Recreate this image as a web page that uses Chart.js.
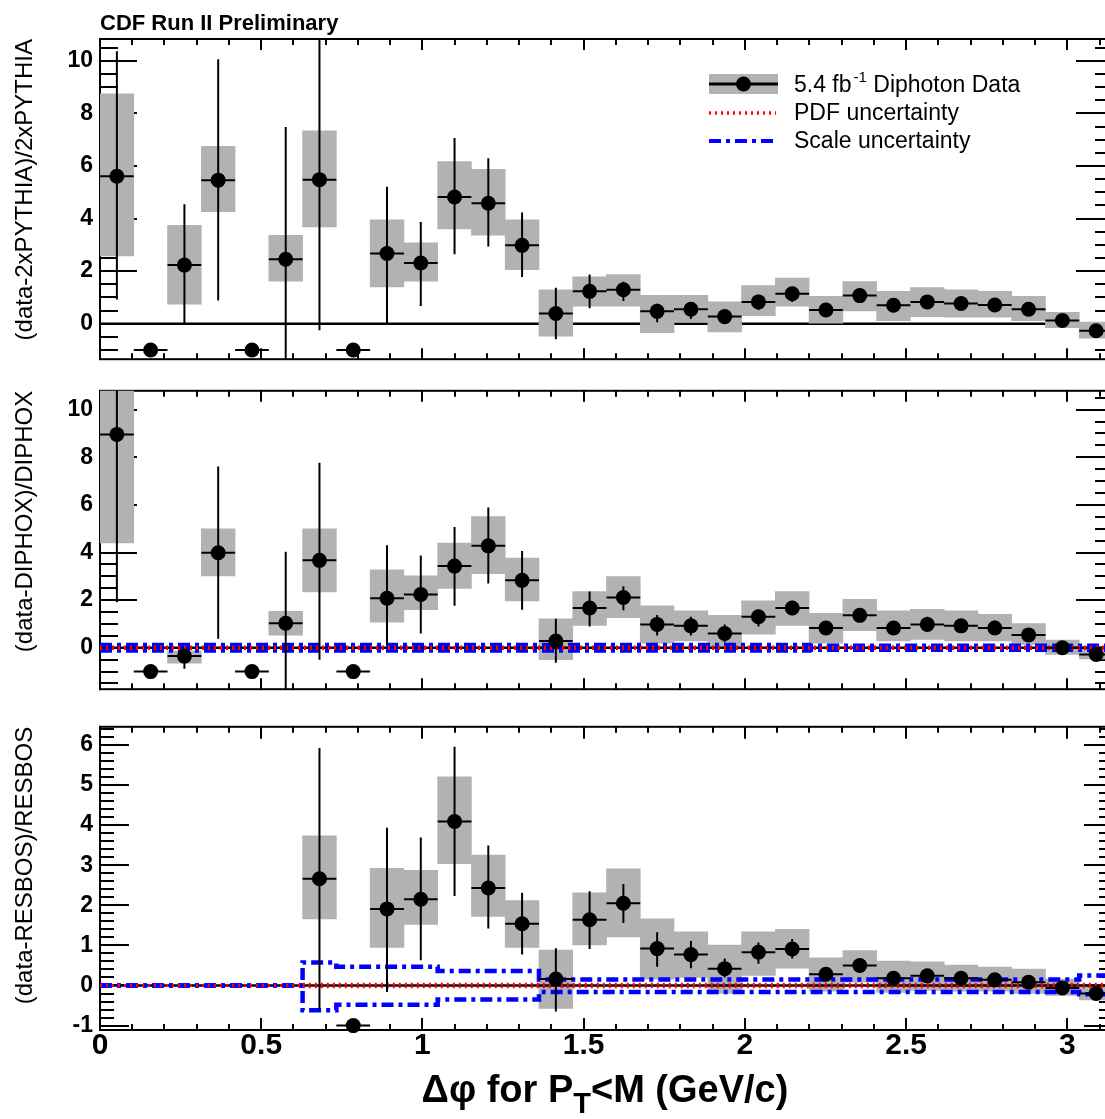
<!DOCTYPE html>
<html>
<head>
<meta charset="utf-8">
<script src="https://cdn.jsdelivr.net/npm/chart.js@4.4.0/dist/chart.umd.min.js"></script>
<style>
  html, body { margin: 0; padding: 0; background: #fff; }
  #wrap { position: relative; width: 1105px; height: 1119px; overflow: hidden; }
  #wrap canvas { position: absolute; left: 0; }
</style>
</head>
<body>
<div id="wrap">
  <canvas id="pythia" width="1130" height="380" style="top:0px"></canvas>
  <canvas id="diphox" width="1130" height="340" style="top:370px"></canvas>
  <canvas id="resbos" width="1130" height="413" style="top:706px"></canvas>
</div>
<script>
// delta phi bins (rad), 30 bins from 0 to pi
const binEdges = [0, 0.1047, 0.2094, 0.3142, 0.4189, 0.5236, 0.6283, 0.7330, 0.8378, 0.9425,
  1.0472, 1.1519, 1.2566, 1.3614, 1.4661, 1.5708, 1.6755, 1.7802, 1.8850, 1.9897,
  2.0944, 2.1991, 2.3038, 2.4086, 2.5133, 2.6180, 2.7227, 2.8274, 2.9322, 3.0369, 3.1416];
const xTickLabels = [0, 0.5, 1, 1.5, 2, 2.5, 3];

// (data-2xPYTHIA)/2xPYTHIA
const pythiaTicks = [0, 2, 4, 6, 8, 10];
const pythiaVal = [5.61, -1, 2.23, 5.46, -1, 2.45, 5.48, -1, 2.67, 2.31, 4.82, 4.58, 2.98, 0.39, 1.23,
  1.29, 0.47, 0.55, 0.27, 0.83, 1.14, 0.52, 1.07, 0.70, 0.83, 0.77, 0.71, 0.55, 0.12, -0.27];
const pythiaSysLo = [2.58, null, 0.74, 4.26, null, 1.62, 3.68, null, 1.40, 1.62, 3.61, 3.37, 2.06, -0.47, 0.67,
  0.67, -0.34, 0.06, -0.31, 0.31, 0.67, 0.02, 0.49, 0.12, 0.27, 0.25, 0.25, 0.12, -0.15, -0.55];
const pythiaSysHi = [8.74, null, 3.74, 6.75, null, 3.36, 7.34, null, 3.95, 3.08, 6.17, 5.87, 3.95, 1.29, 1.78,
  1.87, 1.08, 1.08, 0.83, 1.45, 1.74, 1.04, 1.60, 1.23, 1.37, 1.29, 1.23, 1.04, 0.43, 0.06];
const pythiaErrLo = [0.92, null, 0.0, 0.88, null, -2.0, -0.25, null, 0.0, 0.67, 2.64, 2.94, 1.78, -0.59, 0.59,
  0.86, 0.06, 0.18, -0.02, 0.52, 0.83, 0.27, 0.80, 0.47, 0.59, 0.55, 0.47, 0.31, -0.06, -0.45];
const pythiaErrHi = [10.36, null, 4.54, 10.06, null, 7.48, 11.5, null, 5.21, 3.87, 7.06, 6.29, 4.23, 1.37, 1.87,
  1.60, 0.76, 0.80, 0.55, 1.10, 1.41, 0.80, 1.35, 0.98, 1.08, 1.00, 0.96, 0.80, 0.31, -0.09];

// (data-DIPHOX)/DIPHOX
const diphoxTicks = [0, 2, 4, 6, 8, 10];
const diphoxVal = [8.96, -1, -0.35, 3.99, -1, 1.03, 3.67, -1, 2.08, 2.24, 3.43, 4.28, 2.83, 0.28, 1.67,
  2.11, 0.98, 0.92, 0.60, 1.30, 1.67, 0.83, 1.36, 0.83, 0.98, 0.92, 0.83, 0.54, 0.0, -0.28];
const diphoxSysLo = [4.40, null, -0.65, 3.02, null, 0.53, 2.35, null, 1.07, 1.60, 2.49, 3.11, 1.97, -0.50, 0.94,
  1.26, 0.19, 0.29, 0.06, 0.57, 0.94, 0.19, 0.72, 0.29, 0.35, 0.29, 0.29, 0.14, -0.28, -0.47];
const diphoxSysHi = [13.5, null, -0.13, 4.99, null, 1.53, 4.99, null, 3.27, 3.02, 4.40, 5.51, 3.77, 1.22, 2.36,
  2.99, 1.76, 1.55, 1.36, 1.97, 2.36, 1.45, 2.03, 1.55, 1.61, 1.55, 1.40, 1.02, 0.32, 0.06];
const diphoxErrLo = [1.91, null, -0.88, 0.38, null, -2.5, -0.50, null, 0.13, 0.60, 1.76, 2.70, 1.60, -0.63, 0.89,
  1.57, 0.52, 0.52, 0.23, 0.89, 1.36, 0.55, 1.11, 0.55, 0.69, 0.67, 0.57, 0.29, -0.22, -0.45];
const diphoxErrHi = [15.0, null, -0.15, 7.61, null, 4.03, 7.77, null, 4.30, 3.87, 5.07, 5.89, 4.06, 1.22, 2.36,
  2.58, 1.38, 1.30, 0.98, 1.60, 1.97, 1.11, 1.64, 1.11, 1.30, 1.17, 1.15, 0.82, 0.22, -0.10];
const diphoxScaleUp = [0.12, 0.12, 0.12, 0.12, 0.12, 0.12, 0.12, 0.12, 0.12, 0.12, 0.12, 0.12, 0.12, 0.12, 0.12,
  0.12, 0.12, 0.12, 0.12, 0.12, 0.12, 0.08, 0.08, 0.08, 0.08, 0.08, 0.08, 0.08, 0.08, 0.08];
const diphoxScaleDn = [-0.12, -0.12, -0.12, -0.12, -0.12, -0.12, -0.12, -0.12, -0.12, -0.12, -0.12, -0.12, -0.12, -0.12, -0.12,
  -0.12, -0.12, -0.12, -0.12, -0.12, -0.12, -0.08, -0.08, -0.08, -0.08, -0.08, -0.08, -0.08, -0.08, -0.08];
const diphoxPdfUp = [0.03, 0.03, 0.03, 0.03, 0.03, 0.03, 0.03, 0.03, 0.03, 0.03, 0.03, 0.03, 0.03, 0.03, 0.03,
  0.03, 0.03, 0.03, 0.03, 0.03, 0.03, 0.03, 0.03, 0.03, 0.03, 0.03, 0.03, 0.03, 0.03, 0.03];
const diphoxPdfDn = [-0.03, -0.03, -0.03, -0.03, -0.03, -0.03, -0.03, -0.03, -0.03, -0.03, -0.03, -0.03, -0.03, -0.03, -0.03,
  -0.03, -0.03, -0.03, -0.03, -0.03, -0.03, -0.03, -0.03, -0.03, -0.03, -0.03, -0.03, -0.03, -0.03, -0.03];

// (data-RESBOS)/RESBOS
const resbosTicks = [-1, 0, 1, 2, 3, 4, 5, 6];
const resbosVal = [null, null, null, null, null, null, 2.66, -1, 1.91, 2.15, 4.09, 2.43, 1.54, 0.16, 1.64,
  2.05, 0.92, 0.77, 0.42, 0.83, 0.91, 0.28, 0.50, 0.18, 0.24, 0.18, 0.14, 0.08, -0.06, -0.20];
const resbosSysLo = [null, null, null, null, null, null, 1.66, null, 0.95, 1.52, 3.04, 1.72, 0.95, -0.57, 1.01,
  1.21, 0.16, 0.20, -0.20, 0.25, 0.43, -0.14, 0.08, -0.17, -0.12, -0.14, -0.14, -0.20, -0.25, -0.36];
const resbosSysHi = [null, null, null, null, null, null, 3.73, null, 2.92, 2.87, 5.20, 3.25, 2.12, 0.88, 2.31,
  2.91, 1.66, 1.34, 1.01, 1.34, 1.40, 0.69, 0.87, 0.61, 0.59, 0.51, 0.46, 0.41, 0.16, 0.02];
const resbosErrLo = [null, null, null, null, null, null, -0.59, null, -0.16, 0.63, 2.23, 1.42, 0.77, -0.65, 0.91,
  1.56, 0.47, 0.43, 0.20, 0.54, 0.67, 0.14, 0.33, 0.06, 0.09, 0.06, 0.02, -0.04, -0.16, -0.30];
const resbosErrHi = [null, null, null, null, null, null, 5.92, null, 3.93, 3.69, 5.95, 3.49, 2.31, 0.93, 2.35,
  2.53, 1.33, 1.11, 0.67, 1.07, 1.16, 0.41, 0.67, 0.33, 0.38, 0.32, 0.28, 0.22, 0.04, -0.10];
const resbosScaleUp = [0, 0, 0, 0, 0, 0, 0.57, 0.47, 0.47, 0.47, 0.36, 0.36, 0.36, 0.15, 0.15,
  0.15, 0.15, 0.15, 0.15, 0.15, 0.15, 0.15, 0.15, 0.15, 0.15, 0.15, 0.15, 0.15, 0.15, 0.25];
const resbosScaleDn = [0, 0, 0, 0, 0, 0, -0.62, -0.48, -0.48, -0.48, -0.35, -0.35, -0.35, -0.16, -0.16,
  -0.16, -0.16, -0.16, -0.16, -0.16, -0.16, -0.16, -0.16, -0.16, -0.16, -0.16, -0.16, -0.16, -0.16, -0.22];
const resbosPdfUp = [0, 0, 0, 0, 0, 0, 0.03, 0.03, 0.03, 0.03, 0.03, 0.03, 0.03, 0.03, 0.03,
  0.03, 0.03, 0.03, 0.03, 0.03, 0.03, 0.03, 0.03, 0.03, 0.03, 0.03, 0.03, 0.03, 0.03, 0.03];
const resbosPdfDn = [0, 0, 0, 0, 0, 0, -0.03, -0.03, -0.03, -0.03, -0.03, -0.03, -0.03, -0.03, -0.03,
  -0.03, -0.03, -0.03, -0.03, -0.03, -0.03, -0.03, -0.03, -0.03, -0.03, -0.03, -0.03, -0.03, -0.03, -0.03];

const FONT = '"Liberation Sans", Arial, Helvetica, sans-serif';
const boxColor = '#b2b2b2';
const scaleDash = [12, 5, 4, 5];
const pdfDash = [2, 4];

const centers = binEdges.slice(0, -1).map((e, i) => (e + binEdges[i + 1]) / 2);

function boxPoints(lo, hi) {
  let pts = [];
  centers.forEach((c, i) => {
    if (lo[i] != null) pts.push({x: c, y: [lo[i], hi[i]]});
  });
  return pts;
}

function vBarPoints(lo, hi) {
  let pts = [];
  centers.forEach((c, i) => {
    if (lo[i] == null) return;
    pts.push({x: c, y: lo[i]}, {x: c, y: hi[i]}, {x: c, y: null});
  });
  return pts;
}

function hBarPoints(vals) {
  let pts = [];
  vals.forEach((v, i) => {
    if (v == null) return;
    pts.push({x: binEdges[i], y: v}, {x: binEdges[i + 1], y: v}, {x: binEdges[i + 1], y: null});
  });
  return pts;
}

function markerPoints(vals) {
  let pts = [];
  vals.forEach((v, i) => {
    if (v != null) pts.push({x: centers[i], y: v});
  });
  return pts;
}

function stepPoints(band) {
  let pts = band.map((v, i) => ({x: binEdges[i], y: v}));
  pts.push({x: binEdges[band.length], y: band[band.length - 1]});
  return pts;
}

// ROOT style frame with inward ticks on all four sides
const frameTicks = {
  id: 'frameTicks',
  beforeDatasetsDraw(chart, args, o) {
    const {ctx, chartArea: a} = chart;
    const x = chart.scales.x, y = chart.scales.y;
    ctx.save();
    ctx.strokeStyle = '#000';
    ctx.lineWidth = 2;
    ctx.strokeRect(a.left, a.top, a.right - a.left, a.bottom - a.top);
    ctx.beginPath();
    for (let i = 0; i * 0.1 <= x.max + 1e-6; i++) {
      const px = Math.round(x.getPixelForValue(i * 0.1));
      const len = i % 5 === 0 ? o.xLong : o.xShort;
      ctx.moveTo(px, a.bottom); ctx.lineTo(px, a.bottom - len);
      ctx.moveTo(px, a.top); ctx.lineTo(px, a.top + len);
    }
    const per = Math.round(o.yMajor / o.yMinor);
    const n0 = Math.ceil(y.min / o.yMinor - 1e-6), n1 = Math.floor(y.max / o.yMinor + 1e-6);
    for (let i = n0; i <= n1; i++) {
      const py = Math.round(y.getPixelForValue(i * o.yMinor));
      const len = ((i % per) + per) % per === 0 ? o.yLong : o.yShort;
      ctx.moveTo(a.left, py); ctx.lineTo(a.left + len, py);
      ctx.moveTo(a.right, py); ctx.lineTo(a.right - len, py);
    }
    ctx.stroke();
    ctx.restore();
  }
};

// header text and legend of the top pad
const topDecor = {
  id: 'topDecor',
  afterDatasetsDraw(chart) {
    const {ctx, chartArea: a} = chart;
    const lx = a.left + 609, lw = 69, tx = a.left + 694;
    ctx.save();
    ctx.fillStyle = '#000';
    ctx.font = 'bold 22px ' + FONT;
    ctx.textBaseline = 'alphabetic';
    ctx.fillText('CDF Run II Preliminary', a.left, a.top - 9);

    ctx.fillStyle = boxColor;
    ctx.fillRect(lx, a.top + 35, lw, 20);
    ctx.strokeStyle = '#000';
    ctx.lineWidth = 3;
    ctx.beginPath();
    ctx.moveTo(lx, a.top + 45); ctx.lineTo(lx + lw, a.top + 45);
    ctx.stroke();
    ctx.fillStyle = '#000';
    ctx.beginPath();
    ctx.arc(lx + lw / 2, a.top + 45, 7.5, 0, Math.PI * 2);
    ctx.fill();

    ctx.lineWidth = 3.5;
    ctx.strokeStyle = '#ff0000';
    ctx.setLineDash(pdfDash);
    ctx.beginPath();
    ctx.moveTo(lx, a.top + 74); ctx.lineTo(lx + lw - 2, a.top + 74);
    ctx.stroke();
    ctx.lineWidth = 4;
    ctx.strokeStyle = '#0000ff';
    ctx.setLineDash(scaleDash);
    ctx.beginPath();
    ctx.moveTo(lx, a.top + 102); ctx.lineTo(lx + lw - 2, a.top + 102);
    ctx.stroke();
    ctx.setLineDash([]);

    const big = '23px ' + FONT, sup = '15px ' + FONT;
    ctx.font = big;
    ctx.fillText('5.4 fb', tx, a.top + 53);
    let cx = tx + ctx.measureText('5.4 fb').width + 2;
    ctx.font = sup;
    ctx.fillText('-1', cx, a.top + 43);
    cx += ctx.measureText('-1').width;
    ctx.font = big;
    ctx.fillText(' Diphoton Data', cx, a.top + 53);
    ctx.fillText('PDF uncertainty', tx, a.top + 81);
    ctx.fillText('Scale uncertainty', tx, a.top + 109);
    ctx.restore();
  }
};

// x axis title with subscript
const xTitle = {
  id: 'xTitle',
  afterDraw(chart) {
    const {ctx, chartArea: a} = chart;
    const big = 'bold 38px ' + FONT, small = 'bold 29px ' + FONT;
    const parts = [['\u0394\u03c6 for P', big, 0], ['T', small, 11], ['<M (GeV/c)', big, 0]];
    ctx.save();
    ctx.fillStyle = '#000';
    let w = 0;
    parts.forEach(p => { ctx.font = p[1]; w += ctx.measureText(p[0]).width; });
    let cx = a.left + 505 - w / 2;
    const base = a.bottom + 72;
    parts.forEach(p => {
      ctx.font = p[1];
      ctx.fillText(p[0], cx, base + p[2]);
      cx += ctx.measureText(p[0]).width;
    });
    ctx.restore();
  }
};

function makePanel(id, p) {
  let datasets = [
    {type: 'line', data: [{x: binEdges[0], y: 0}, {x: binEdges[30], y: 0}], borderColor: '#000',
      borderWidth: 2.5, pointRadius: 0, order: p.zeroOnTop ? 5 : 7},
    {type: 'bar', data: boxPoints(p.sysLo, p.sysHi), backgroundColor: boxColor, borderWidth: 0,
      barPercentage: 1, categoryPercentage: 1, order: 6}
  ];
  if (p.scaleUp) {
    [p.scaleUp, p.scaleDn].forEach(b => datasets.push({type: 'line', data: stepPoints(b), stepped: true,
      borderColor: '#0000ff', borderWidth: 4.5, borderDash: scaleDash, pointRadius: 0, order: 4}));
    [p.pdfUp, p.pdfDn].forEach(b => datasets.push({type: 'line', data: stepPoints(b), stepped: true,
      borderColor: '#ff0000', borderWidth: 3, borderDash: pdfDash, pointRadius: 0, order: 3}));
  }
  datasets.push(
    {type: 'line', data: vBarPoints(p.errLo, p.errHi), borderColor: '#000', borderWidth: 2,
      pointRadius: 0, spanGaps: false, order: 2},
    {type: 'line', data: hBarPoints(p.val), borderColor: '#000', borderWidth: 2,
      pointRadius: 0, spanGaps: false, order: 2},
    {type: 'scatter', data: markerPoints(p.val), backgroundColor: '#000', borderWidth: 0,
      pointRadius: 7.5, clip: 9, order: 1}
  );

  return new Chart(document.getElementById(id), {
    type: 'bar',
    data: {datasets: datasets},
    plugins: p.plugins,
    options: {
      responsive: false,
      animation: false,
      devicePixelRatio: 1,
      events: [],
      layout: {padding: p.padding},
      plugins: {
        legend: {display: false},
        tooltip: {enabled: false},
        frameTicks: p.ticks
      },
      scales: {
        x: {
          type: 'linear', min: 0, max: binEdges[30], offset: false,
          display: p.showX,
          afterBuildTicks: s => { s.ticks = xTickLabels.map(v => ({value: v})); },
          afterFit: s => { if (p.showX) s.height = 89; },
          grid: {display: false, drawTicks: false},
          border: {display: false},
          ticks: {color: '#000', padding: -2, autoSkip: false, maxRotation: 0,
            callback: v => String(v),
            font: {family: FONT, size: 30, weight: 'bold'}}
        },
        y: {
          type: 'linear', min: p.range[0], max: p.range[1],
          afterBuildTicks: s => { s.ticks = p.yTicks.map(v => ({value: v})); },
          afterFit: s => { s.width = 100; },
          grid: {display: false, drawTicks: false},
          border: {display: false},
          ticks: {color: '#000', padding: 7, autoSkip: false,
            callback: v => String(v),
            font: {family: FONT, size: 23, weight: 'bold'}},
          title: {display: true, text: p.title, align: 'end', color: '#000',
            padding: {top: 11, bottom: 0}, font: {family: FONT, size: 24}}
        }
      }
    }
  });
}

makePanel('pythia', {
  val: pythiaVal, sysLo: pythiaSysLo, sysHi: pythiaSysHi, errLo: pythiaErrLo, errHi: pythiaErrHi,
  range: [-1.35, 10.83], yTicks: pythiaTicks, title: '(data-2xPYTHIA)/2xPYTHIA',
  padding: {top: 39, bottom: 10, left: 0, right: 17}, showX: false, zeroOnTop: false,
  ticks: {xLong: 11, xShort: 6, yMajor: 2, yMinor: 0.5, yLong: 37, yShort: 18},
  plugins: [frameTicks, topDecor]
});

makePanel('diphox', {
  val: diphoxVal, sysLo: diphoxSysLo, sysHi: diphoxSysHi, errLo: diphoxErrLo, errHi: diphoxErrHi,
  scaleUp: diphoxScaleUp, scaleDn: diphoxScaleDn, pdfUp: diphoxPdfUp, pdfDn: diphoxPdfDn,
  range: [-1.74, 10.79], yTicks: diphoxTicks, title: '(data-DIPHOX)/DIPHOX',
  padding: {top: 4, bottom: 4, left: 0, right: 17}, showX: false, zeroOnTop: true,
  ticks: {xLong: 11, xShort: 6, yMajor: 2, yMinor: 0.5, yLong: 37, yShort: 18},
  plugins: [frameTicks]
});

makePanel('resbos', {
  val: resbosVal, sysLo: resbosSysLo, sysHi: resbosSysHi, errLo: resbosErrLo, errHi: resbosErrHi,
  scaleUp: resbosScaleUp, scaleDn: resbosScaleDn, pdfUp: resbosPdfUp, pdfDn: resbosPdfDn,
  range: [-1.11, 6.45], yTicks: resbosTicks, title: '(data-RESBOS)/RESBOS',
  padding: {top: 5, bottom: 0, left: 0, right: 17}, showX: true, zeroOnTop: true,
  ticks: {xLong: 12, xShort: 6, yMajor: 1, yMinor: 0.2, yLong: 29, yShort: 14},
  plugins: [frameTicks, xTitle]
});
</script>
</body>
</html>
